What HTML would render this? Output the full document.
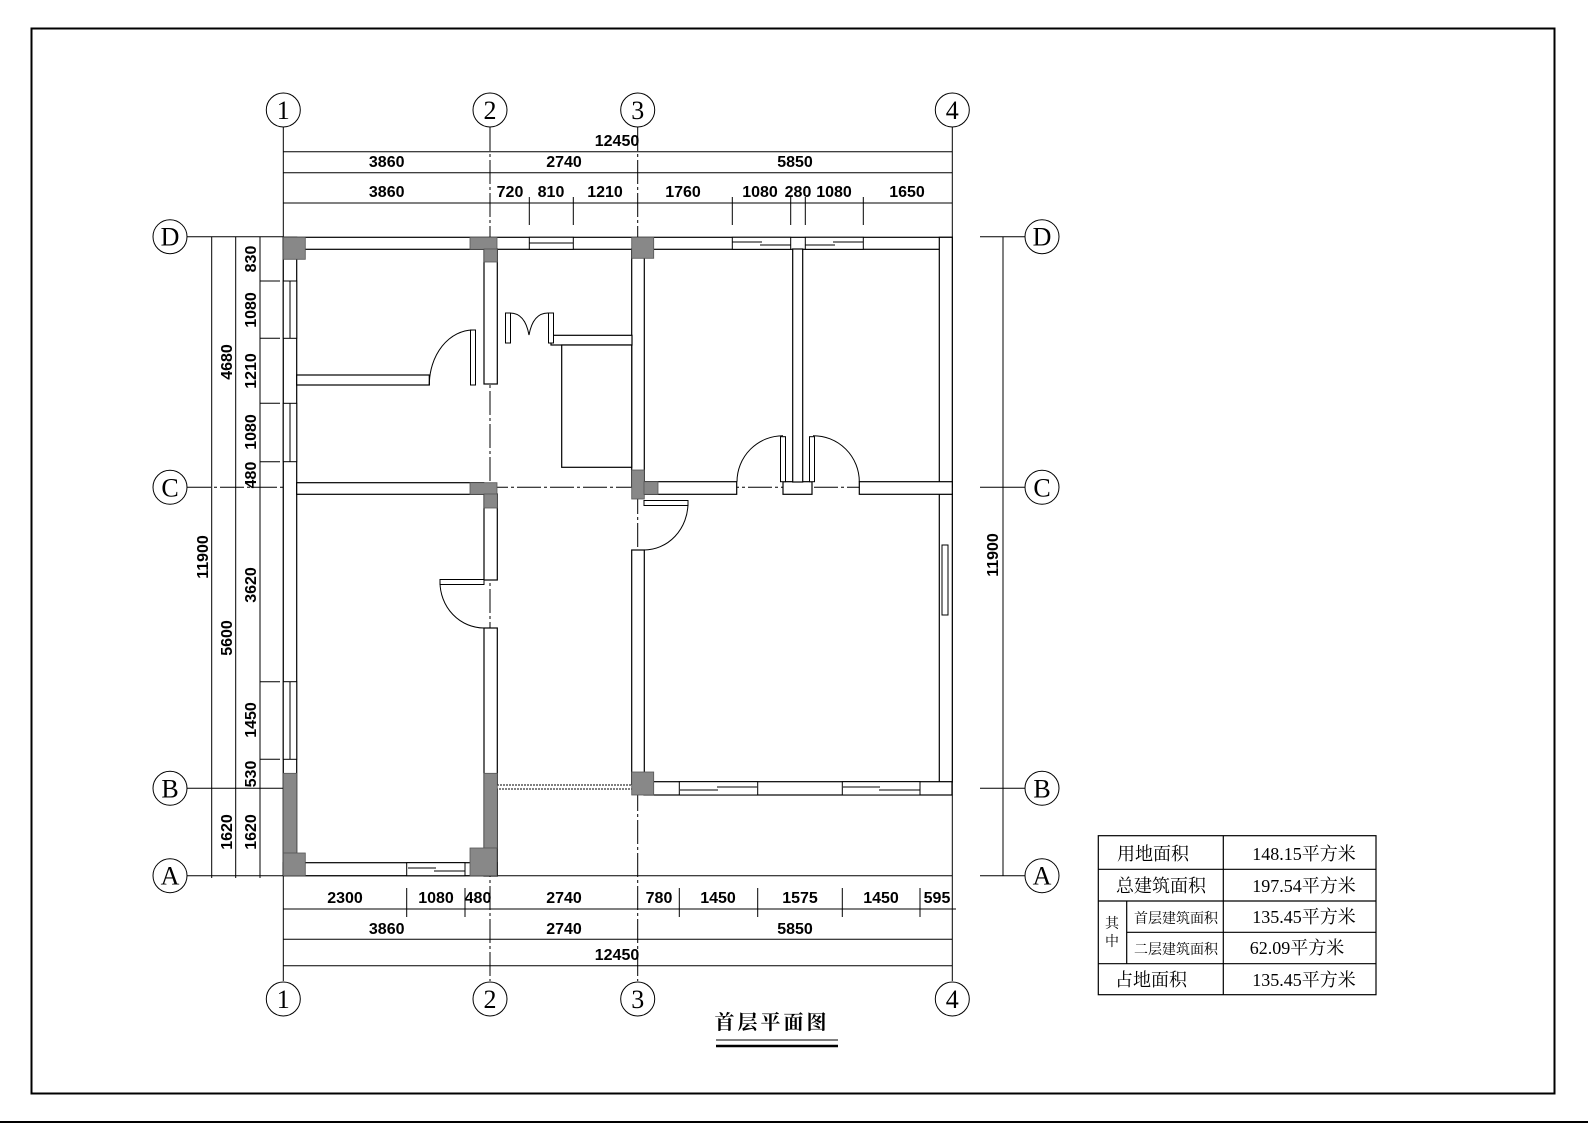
<!DOCTYPE html>
<html><head><meta charset="utf-8"><style>
html,body{margin:0;padding:0;background:#fff;}
svg{display:block;}
.d{font-family:"Liberation Sans",sans-serif;font-weight:bold;font-size:16px;text-anchor:middle;fill:#000;}
.b{font-family:"Liberation Serif",serif;font-size:26px;text-anchor:middle;fill:#000;}
.t{font-family:"Liberation Serif","Noto Serif CJK SC",serif;font-size:18px;text-anchor:middle;fill:#000;}
</style></head><body>
<svg width="1588" height="1123" viewBox="0 0 1588 1123" xmlns="http://www.w3.org/2000/svg">
<rect x="31.5" y="28.5" width="1523" height="1065" fill="none" stroke="#000" stroke-width="2"/>
<line x1="0" y1="1122" x2="1588" y2="1122" stroke="#000" stroke-width="2"/>

<g stroke="#000" stroke-width="1" fill="none">
<line x1="283.3" y1="127" x2="283.3" y2="981"/>
<line x1="490" y1="127" x2="490" y2="981" stroke-dasharray="24 3 3 3"/>
<line x1="637.7" y1="127" x2="637.7" y2="981" stroke-dasharray="24 3 3 3"/>
<line x1="952.3" y1="127" x2="952.3" y2="981"/>
<line x1="187" y1="236.7" x2="283" y2="236.7"/>
<line x1="187" y1="487.3" x2="952" y2="487.3" stroke-dasharray="24 3 3 3"/>
<line x1="187" y1="788.3" x2="283" y2="788.3"/>
<line x1="187" y1="875.7" x2="952" y2="875.7"/>
<line x1="980" y1="236.7" x2="1025" y2="236.7"/>
<line x1="980" y1="487.3" x2="1025" y2="487.3"/>
<line x1="980" y1="788.3" x2="1025" y2="788.3"/>
<line x1="980" y1="875.7" x2="1025" y2="875.7"/>
</g>

<g fill="#fff" stroke="#000" stroke-width="1">
<circle cx="283.3" cy="110" r="17"/><circle cx="490" cy="110" r="17"/><circle cx="637.7" cy="110" r="17"/><circle cx="952.3" cy="110" r="17"/>
<circle cx="283.3" cy="999" r="17"/><circle cx="490" cy="999" r="17"/><circle cx="637.7" cy="999" r="17"/><circle cx="952.3" cy="999" r="17"/>
<circle cx="170" cy="236.7" r="17"/><circle cx="170" cy="487.3" r="17"/><circle cx="170" cy="788.3" r="17"/><circle cx="170" cy="875.7" r="17"/>
<circle cx="1042" cy="236.7" r="17"/><circle cx="1042" cy="487.3" r="17"/><circle cx="1042" cy="788.3" r="17"/><circle cx="1042" cy="875.7" r="17"/>
</g>
<g class="b">
<text x="283.3" y="119">1</text><text x="490" y="119">2</text><text x="637.7" y="119">3</text><text x="952.3" y="119">4</text>
<text x="283.3" y="1008">1</text><text x="490" y="1008">2</text><text x="637.7" y="1008">3</text><text x="952.3" y="1008">4</text>
<text x="170" y="245.7">D</text><text x="170" y="496.3">C</text><text x="170" y="797.3">B</text><text x="170" y="884.7">A</text>
<text x="1042" y="245.7">D</text><text x="1042" y="496.3">C</text><text x="1042" y="797.3">B</text><text x="1042" y="884.7">A</text>
</g>

<g stroke="#000" stroke-width="1">
<line x1="283" y1="151.7" x2="952" y2="151.7"/>
<line x1="283" y1="172.7" x2="952" y2="172.7"/>
<line x1="283" y1="203" x2="952" y2="203"/>
<line x1="529.3" y1="197" x2="529.3" y2="225"/><line x1="573.3" y1="197" x2="573.3" y2="225"/>
<line x1="732.3" y1="197" x2="732.3" y2="225"/><line x1="790.7" y1="197" x2="790.7" y2="225"/>
<line x1="805.3" y1="197" x2="805.3" y2="225"/><line x1="863.3" y1="197" x2="863.3" y2="225"/>
<line x1="283" y1="909" x2="956" y2="909"/>
<line x1="283" y1="939.3" x2="952" y2="939.3"/>
<line x1="283" y1="965.7" x2="952" y2="965.7"/>
<line x1="406.7" y1="888" x2="406.7" y2="917"/><line x1="465" y1="888" x2="465" y2="917"/>
<line x1="679.3" y1="888" x2="679.3" y2="917"/><line x1="757.7" y1="888" x2="757.7" y2="917"/>
<line x1="842.3" y1="888" x2="842.3" y2="917"/><line x1="920" y1="888" x2="920" y2="917"/>
<line x1="211.7" y1="236.7" x2="211.7" y2="878"/>
<line x1="235.7" y1="236.7" x2="235.7" y2="878"/>
<line x1="260" y1="236.7" x2="260" y2="878"/>
<line x1="260" y1="281" x2="280" y2="281"/><line x1="260" y1="338.3" x2="280" y2="338.3"/>
<line x1="260" y1="403.3" x2="280" y2="403.3"/><line x1="260" y1="461.7" x2="280" y2="461.7"/>
<line x1="260" y1="681.7" x2="280" y2="681.7"/><line x1="260" y1="759.3" x2="280" y2="759.3"/>
<line x1="1003" y1="236.7" x2="1003" y2="875.7"/>
</g>
<g class="d">
<text x="617" y="146">12450</text>
<text x="386.7" y="167">3860</text><text x="564" y="167">2740</text><text x="795" y="167">5850</text>
<text x="386.7" y="197">3860</text><text x="510" y="197">720</text><text x="551" y="197">810</text><text x="605" y="197">1210</text>
<text x="683" y="197">1760</text><text x="760" y="197">1080</text><text x="798" y="197">280</text><text x="834" y="197">1080</text><text x="907" y="197">1650</text>
<text x="345" y="903">2300</text><text x="436" y="903">1080</text><text x="478" y="903">480</text><text x="564" y="903">2740</text>
<text x="659" y="903">780</text><text x="718" y="903">1450</text><text x="800" y="903">1575</text><text x="881" y="903">1450</text><text x="937" y="903">595</text>
<text x="386.7" y="934">3860</text><text x="564" y="934">2740</text><text x="795" y="934">5850</text>
<text x="617" y="960">12450</text>
<text transform="translate(208,557) rotate(-90)">11900</text>
<text transform="translate(232,362) rotate(-90)">4680</text>
<text transform="translate(232,638) rotate(-90)">5600</text>
<text transform="translate(232,832) rotate(-90)">1620</text>
<text transform="translate(256,259) rotate(-90)">830</text>
<text transform="translate(256,310) rotate(-90)">1080</text>
<text transform="translate(256,371) rotate(-90)">1210</text>
<text transform="translate(256,432) rotate(-90)">1080</text>
<text transform="translate(256,475) rotate(-90)">480</text>
<text transform="translate(256,585) rotate(-90)">3620</text>
<text transform="translate(256,720) rotate(-90)">1450</text>
<text transform="translate(256,774) rotate(-90)">530</text>
<text transform="translate(256,832) rotate(-90)">1620</text>
<text transform="translate(998,555) rotate(-90)">11900</text>
</g>

<g fill="#fff" stroke="#000" stroke-width="1.2">
<rect x="283.3" y="237.3" width="669" height="12"/>
<rect x="283.3" y="237.3" width="13.4" height="638"/>
<rect x="939.3" y="237.3" width="13" height="250"/>
<rect x="939.3" y="494" width="13" height="288"/>
<rect x="283.3" y="862.7" width="214" height="13"/>
<rect x="296.7" y="482.7" width="187" height="11.6"/>
<rect x="296.7" y="375" width="132.6" height="10"/>
<rect x="484" y="249" width="13.3" height="135"/>
<rect x="484" y="494" width="13.3" height="86"/>
<rect x="484" y="628" width="13.3" height="248"/>
<rect x="631.7" y="249" width="12.6" height="238"/>
<rect x="631.7" y="550" width="12.6" height="238"/>
<rect x="644" y="481.7" width="92.7" height="12.6"/>
<rect x="783" y="481.7" width="29" height="12.6"/>
<rect x="859.3" y="481.7" width="93" height="12.6"/>
<rect x="792.7" y="249" width="10" height="233"/>
<rect x="644" y="781.7" width="308" height="13.3"/>
<rect x="551" y="335.3" width="81" height="9.7"/>
<rect x="561.7" y="345" width="70" height="122.3"/>
</g>
<g fill="#fff" stroke="#000" stroke-width="1">
<rect x="529.3" y="237.3" width="44" height="12"/><line x1="529.3" y1="243" x2="573.3" y2="243"/>
<rect x="732.3" y="237.3" width="58.4" height="12"/><line x1="732.3" y1="242" x2="762" y2="242"/><line x1="760" y1="245" x2="790.7" y2="245"/>
<rect x="805.3" y="237.3" width="58" height="12"/><line x1="805.3" y1="245" x2="835" y2="245"/><line x1="833" y1="242" x2="863.3" y2="242"/>
<rect x="283.3" y="281" width="13.4" height="57.3"/><line x1="290" y1="281" x2="290" y2="338"/>
<rect x="283.3" y="403.3" width="13.4" height="58.4"/><line x1="290" y1="403" x2="290" y2="462"/>
<rect x="283.3" y="681.7" width="13.4" height="77.6"/><line x1="290" y1="682" x2="290" y2="759"/>
<rect x="406.7" y="862.7" width="58.3" height="13"/><line x1="408" y1="868" x2="436" y2="868"/><line x1="434" y1="871" x2="465" y2="871"/>
<rect x="679.3" y="781.7" width="78.4" height="13.3"/><line x1="680" y1="790" x2="718" y2="790"/><line x1="717" y1="787" x2="757" y2="787"/>
<rect x="842.3" y="781.7" width="77.7" height="13.3"/><line x1="843" y1="787" x2="880" y2="787"/><line x1="879" y1="790" x2="920" y2="790"/>
<rect x="942" y="545" width="6" height="70"/>
</g>
<rect x="497" y="785" width="135" height="4" fill="#fff" stroke="#000" stroke-width="1" stroke-dasharray="2 1"/>
<g fill="#888" stroke="#555" stroke-width="0.8">
<rect x="283.3" y="237.3" width="22" height="22"/>
<rect x="470" y="237.3" width="27" height="12"/><rect x="484" y="249" width="13.3" height="13"/>
<rect x="631.7" y="237.3" width="22" height="21"/>
<rect x="470" y="482.7" width="27" height="11.6"/><rect x="484" y="494" width="13.3" height="14"/>
<rect x="631.7" y="470" width="12.6" height="29"/><rect x="644" y="481.7" width="14" height="12.6"/>
<rect x="484" y="773.3" width="13.3" height="75"/>
<rect x="631.7" y="772" width="22" height="23"/>
<rect x="283.3" y="773.3" width="13.4" height="80"/>
<rect x="283.3" y="853" width="22" height="22.7"/>
<rect x="470" y="848" width="27" height="27.7"/>
</g>
<g fill="none" stroke="#000" stroke-width="1">
<rect x="470.5" y="330" width="5" height="55" fill="#fff"/>
<path d="M429.3 385 A44 55 0 0 1 473 330"/>
<rect x="505.5" y="313" width="5" height="30" fill="#fff"/>
<rect x="548.5" y="313" width="5" height="30" fill="#fff"/>
<path d="M510 313 Q525 313 529 335 Q533 313 548 313"/>
<rect x="780.5" y="436.7" width="5" height="45" fill="#fff"/>
<path d="M737 481.7 A46 46 0 0 1 783 435.7"/>
<rect x="809.5" y="436.7" width="5" height="45" fill="#fff"/>
<path d="M859.3 481.7 A46 46 0 0 0 813 435.7"/>
<rect x="644" y="500.5" width="44" height="5" fill="#fff"/>
<path d="M688 503 A44 47 0 0 1 644 550"/>
<rect x="440" y="579.5" width="44" height="5" fill="#fff"/>
<path d="M440 582 A44 46 0 0 0 484 628"/>
</g>

<text x="772" y="1029" style="font-family:'Noto Serif CJK SC','Noto Sans CJK SC',serif;font-weight:bold;font-size:20px;text-anchor:middle;letter-spacing:3px">首层平面图</text>
<line x1="716" y1="1040" x2="838" y2="1040" stroke="#000" stroke-width="1"/>
<line x1="716" y1="1046" x2="838" y2="1046" stroke="#000" stroke-width="2.5"/>

<g stroke="#000" stroke-width="1.2" fill="none">
<rect x="1098.3" y="835.7" width="277.7" height="159"/>
<line x1="1223.3" y1="835.7" x2="1223.3" y2="994.7"/>
<line x1="1098.3" y1="869.3" x2="1376" y2="869.3"/>
<line x1="1098.3" y1="901" x2="1376" y2="901"/>
<line x1="1126.7" y1="932.3" x2="1376" y2="932.3"/>
<line x1="1098.3" y1="963.7" x2="1376" y2="963.7"/>
<line x1="1126.7" y1="901" x2="1126.7" y2="963.7"/>
</g>
<g class="t">
<text x="1153" y="860">用地面积</text>
<text x="1161" y="892">总建筑面积</text>
<text x="1176" y="923" style="font-size:14px">首层建筑面积</text>
<text x="1176" y="954" style="font-size:14px">二层建筑面积</text>
<text x="1112" y="928" style="font-size:14px">其</text>
<text x="1112" y="946" style="font-size:14px">中</text>
<text x="1151" y="986">占地面积</text>
<text x="1304" y="860">148.15平方米</text>
<text x="1304" y="892">197.54平方米</text>
<text x="1304" y="923">135.45平方米</text>
<text x="1297" y="954">62.09平方米</text>
<text x="1304" y="986">135.45平方米</text>
</g>
</svg>
</body></html>
